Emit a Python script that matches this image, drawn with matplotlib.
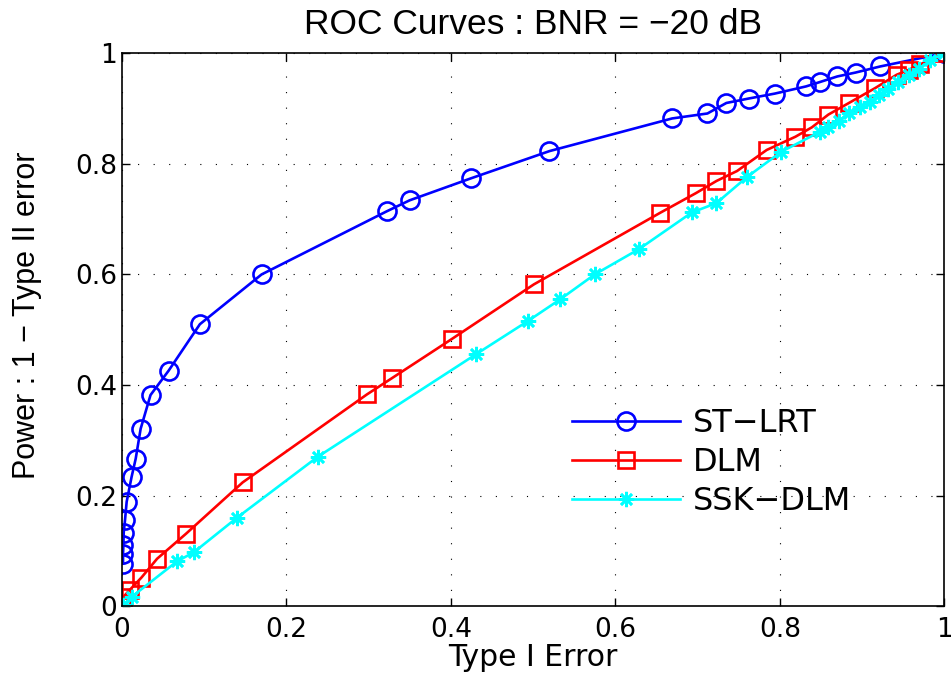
import matplotlib
matplotlib.use('Agg')
import matplotlib.pyplot as plt
import numpy as np

plt.rcParams['font.family'] = ['DejaVu Sans']

# ST-LRT
x_lrt = [0.0016, 0.0016, 0.0020, 0.0024, 0.004, 0.006, 0.012, 0.017, 0.023, 0.035, 0.057,
         0.095, 0.170, 0.322, 0.350, 0.425, 0.520, 0.669, 0.712, 0.735, 0.762, 0.794,
         0.832, 0.849, 0.870, 0.892, 0.922, 1.0]
y_lrt = [0.077, 0.095, 0.110, 0.133, 0.156, 0.189, 0.234, 0.267, 0.321, 0.382, 0.426,
         0.510, 0.600, 0.714, 0.734, 0.774, 0.823, 0.882, 0.891, 0.910, 0.918, 0.927,
         0.940, 0.948, 0.958, 0.965, 0.976, 1.0]

# DLM
x_dlm = [0.0, 0.002, 0.010, 0.024, 0.043, 0.078, 0.147, 0.298, 0.328, 0.401, 0.501,
         0.654, 0.698, 0.723, 0.748, 0.784, 0.819, 0.839, 0.859, 0.884, 0.916, 0.942,
         0.957, 0.971, 1.0]
y_dlm = [0.005, 0.017, 0.030, 0.052, 0.086, 0.131, 0.224, 0.383, 0.412, 0.483, 0.582,
         0.711, 0.747, 0.769, 0.787, 0.825, 0.849, 0.866, 0.889, 0.910, 0.937, 0.961,
         0.970, 0.980, 1.0]

# SSK-DLM
x_ssk = [0.0, 0.002, 0.012, 0.067, 0.088, 0.140, 0.238, 0.431, 0.494, 0.533, 0.575,
         0.629, 0.693, 0.723, 0.760, 0.802, 0.849, 0.859, 0.872, 0.884, 0.898, 0.910,
         0.920, 0.932, 0.944, 0.957, 0.969, 0.983, 1.0]
y_ssk = [0.0, 0.002, 0.017, 0.081, 0.098, 0.160, 0.270, 0.456, 0.516, 0.555, 0.600,
         0.646, 0.712, 0.729, 0.776, 0.822, 0.858, 0.866, 0.878, 0.891, 0.903, 0.912,
         0.924, 0.936, 0.948, 0.960, 0.972, 0.987, 1.0]

fig = plt.figure(figsize=(9.51, 6.82), dpi=100)
ax = fig.add_axes([0.128, 0.111, 0.865, 0.811])

ax.plot(x_lrt, y_lrt, color='#0000ff', lw=1.9, marker='o', ms=13,
        mfc='none', mew=1.9, label='ST\u2212LRT')
ax.plot(x_dlm, y_dlm, color='#ff0000', lw=1.9, marker='s', ms=11,
        mfc='none', mew=1.9, label='DLM')
ax.plot(x_ssk, y_ssk, color='#00ffff', lw=1.9, marker=(8, 2, 0), ms=11,
        mew=1.9, label='SSK\u2212DLM')

ax.set_xlim(0, 1)
ax.set_ylim(0, 1)
ax.set_xticks(np.arange(0, 1.01, 0.2))
ax.set_yticks(np.arange(0, 1.01, 0.2))
ax.set_xticklabels(['0', '0.2', '0.4', '0.6', '0.8', '1'])
ax.set_yticklabels(['0', '0.2', '0.4', '0.6', '0.8', '1'])
ax.tick_params(direction='in', length=6, width=1, labelsize=19, top=True, right=True)
ax.tick_params(axis='x', pad=8)
ax.grid(True, color='black', linestyle=(0, (1, 13)), linewidth=0.8)
for s in ax.spines.values():
    s.set_linewidth(1.2)

ax.set_title('ROC Curves : BNR = \u221220 dB', fontsize=25.5, pad=14,
             family=['Liberation Sans'])
ax.set_xlabel('Type I Error', fontsize=21.5, labelpad=0)
ax.set_ylabel('Power : 1 \u2212 Type II error', fontsize=22,
              family=['Liberation Sans'])
ax.yaxis.set_label_coords(-0.097, 0.526)

ax.legend(loc='center left', bbox_to_anchor=(0.547, 0.26), frameon=False,
          fontsize=23, handlelength=3.4, labelspacing=0.26, handletextpad=0.38,
          borderpad=0, borderaxespad=0)

fig.savefig('out.png', dpi=100)
